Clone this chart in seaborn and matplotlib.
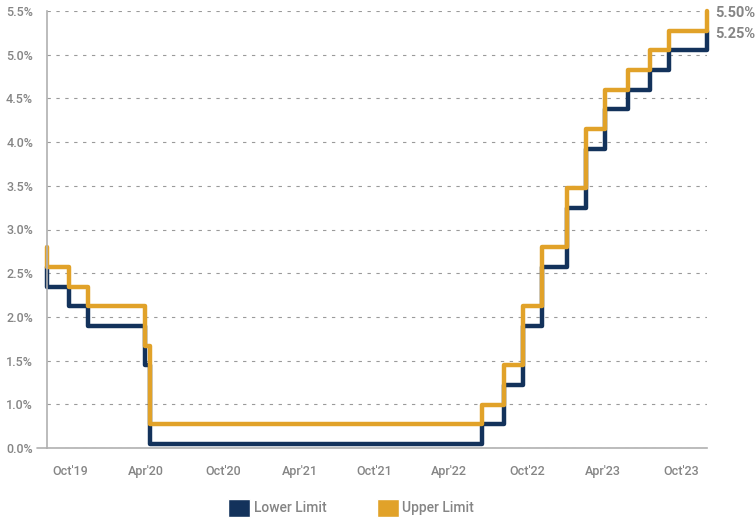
import matplotlib
matplotlib.use('Agg')
import matplotlib.pyplot as plt
import pandas as pd
import seaborn as sns
from matplotlib.patches import Patch

# fed funds target range, changes
change_dates = ['2019-07-31', '2019-08-01', '2019-09-18', '2019-10-30', '2020-03-03',
                '2020-03-15', '2022-03-16', '2022-05-04', '2022-06-15', '2022-07-27',
                '2022-09-21', '2022-11-02', '2022-12-14', '2023-02-01', '2023-03-22',
                '2023-05-03', '2023-07-26']
lower = [2.25, 2.00, 1.75, 1.50, 1.00, 0.00, 0.25, 0.75, 1.50, 2.25,
         3.00, 3.75, 4.25, 4.50, 4.75, 5.00, 5.25]
upper = [2.50, 2.25, 2.00, 1.75, 1.25, 0.25, 0.50, 1.00, 1.75, 2.50,
         3.25, 4.00, 4.50, 4.75, 5.00, 5.25, 5.50]

tick_dates = ['2019-09-20', '2020-03-06', '2020-08-22', '2021-02-08', '2021-07-21',
              '2022-01-03', '2022-06-24', '2022-12-08', '2023-05-30']
tick_labels = ["Oct'19", "Apr'20", "Oct'20", "Apr'21", "Oct'21",
               "Apr'22", "Oct'22", "Apr'23", "Oct'23"]
y_ticks = [-0.05, 0.505, 1.06, 1.615, 2.17, 2.725, 3.28, 3.835, 4.39, 4.945, 5.5]
y_labels = ['0.0%', '1.0%', '1.5%', '2.0%', '2.5%', '3.0%', '3.5%', '4.0%', '4.5%', '5.0%', '5.5%']

navy = '#13325B'
gold = '#E1A229'
grey = '#858585'

df = pd.DataFrame({'date': pd.to_datetime(change_dates), 'lower': lower, 'upper': upper})

sns.set_style('white')
plt.rcParams['font.family'] = ['Roboto', 'DejaVu Sans']
plt.rcParams['font.weight'] = 'medium'

fig = plt.figure(figsize=(7.55, 5.25), dpi=100)
ax = fig.add_axes([47 / 755, 1 - 448 / 525, 660 / 755, 437 / 525])

sns.lineplot(data=df, x='date', y='lower', ax=ax, color=navy, lw=3.2,
             drawstyle='steps-post', clip_on=False, solid_capstyle='round')
sns.lineplot(data=df, x='date', y='upper', ax=ax, color=gold, lw=3.2,
             drawstyle='steps-post', clip_on=False, solid_capstyle='round')

ax.set_xlim(df['date'].iloc[0], df['date'].iloc[-1])
ax.set_ylim(-0.05, 5.5)
ax.set_yticks(y_ticks)
ax.set_yticklabels(y_labels)
ax.set_xticks(pd.to_datetime(tick_dates))
ax.set_xticklabels(tick_labels)
ax.set_xlabel('')
ax.set_ylabel('')

ax.yaxis.grid(True, linestyle=(0, (3, 5)), color='#9a9a9a', lw=0.8)
ax.xaxis.grid(False)
ax.tick_params(axis='both', length=0, labelsize=9, labelcolor=grey)
ax.tick_params(axis='y', pad=10)
ax.tick_params(axis='x', pad=12)

for side in ['top', 'right']:
    ax.spines[side].set_visible(False)
for side in ['left', 'bottom']:
    ax.spines[side].set_color('#b0b0b0')
    ax.spines[side].set_linewidth(1.2)
ax.axhline(-0.05, xmin=-0.015, xmax=0, clip_on=False, color='#b0b0b0', lw=1.2)

# end labels
last = df.iloc[-1]
ax.annotate(f"{last['upper']:.2f}%", (last['date'], last['upper']), xytext=(6, -1.5),
            textcoords='offset points', va='center', ha='left', fontsize=10.5,
            fontweight='bold', color=grey, annotation_clip=False)
ax.annotate(f"{last['lower']:.2f}%", (last['date'], last['lower']), xytext=(6, -2.5),
            textcoords='offset points', va='center', ha='left', fontsize=10.5,
            fontweight='bold', color=grey, annotation_clip=False)

handles = [Patch(facecolor=navy), Patch(facecolor=gold)]
leg = fig.legend(handles, ['Lower Limit', 'Upper Limit'], loc='lower center',
                 bbox_to_anchor=(0.465, -0.008), ncol=2, frameon=False, fontsize=10,
                 handlelength=1.6, handleheight=1.6, handletextpad=0.25, columnspacing=3.6)
for t in leg.get_texts():
    t.set_color(grey)

fig.savefig('out.png', dpi=100)
